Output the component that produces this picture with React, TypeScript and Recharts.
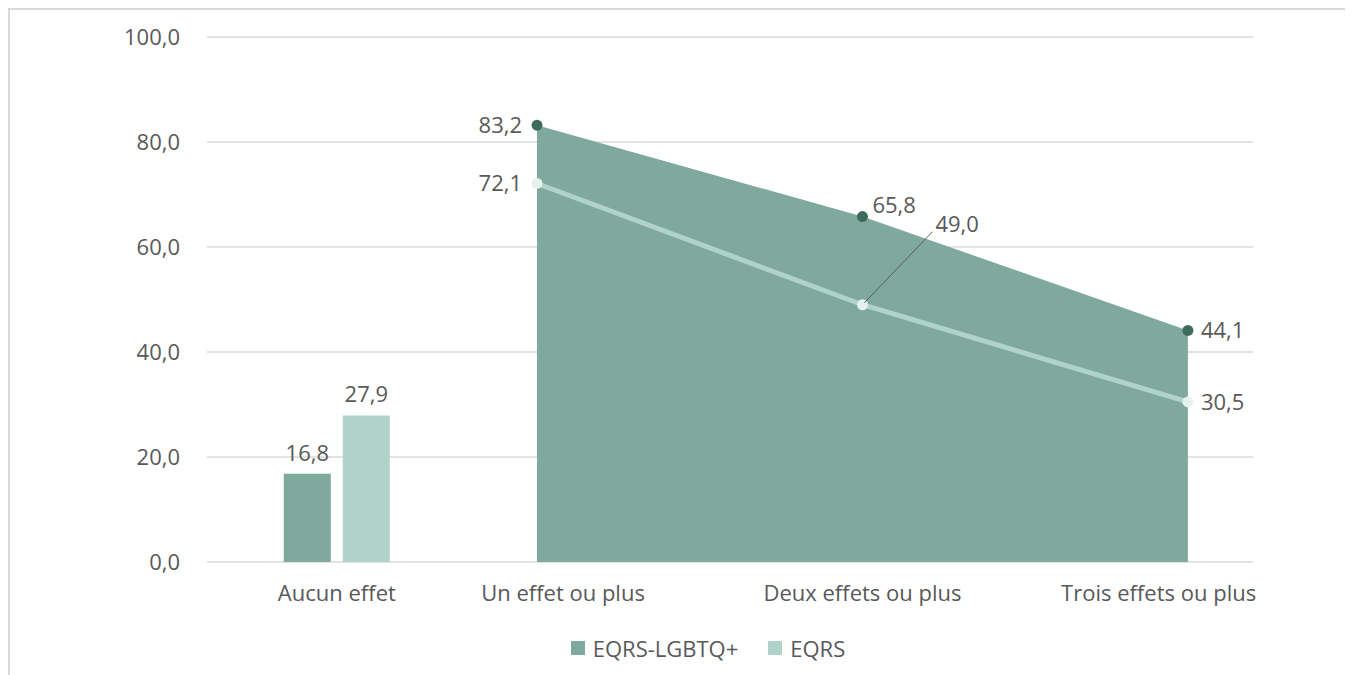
import React from 'react';
import { ComposedChart, Bar, Area, Line, XAxis, YAxis, CartesianGrid, Legend, LabelList } from 'recharts';

const categories = ['Aucun effet', 'Un effet ou plus', 'Deux effets ou plus', 'Trois effets ou plus'];
const lgbtqValues = [16.8, 83.2, 65.8, 44.1];
const eqrsValues = [27.9, 72.1, 49.0, 30.5];
const yTicks = [0, 20, 40, 60, 80, 100];
const seriesNames = ['EQRS-LGBTQ+', 'EQRS'];

// positions of categories along the numeric x axis (axis units)
const pointX = [0.385, 1, 2, 3];
const tickX = [0.385, 1.08, 2.0, 2.91];

const data = categories.map((c, i) =>
  i === 0
    ? { x: pointX[i], name: c, barLgbtq: lgbtqValues[i], barEqrs: eqrsValues[i] }
    : { x: pointX[i], name: c, areaLgbtq: lgbtqValues[i], lineEqrs: eqrsValues[i] }
);

const FONT = "'Open Sans', sans-serif";
const FS = 22;
const TEXT = '#595959';
const C_DARK = '#7FA99D';
const C_LIGHT = '#B0D3C9';
const C_DOT_DARK = '#3D6B5C';
const C_DOT_LIGHT = '#E4F1EC';

const fmt = (v: number) => v.toFixed(1).replace('.', ',');

const lgbtqPlacement: Record<number, string> = { 1: 'left', 2: 'rightUp', 3: 'right' };
const eqrsPlacement: Record<number, string> = { 1: 'left', 2: 'leader', 3: 'right' };

const makeLabel = (placements: Record<number, string>) => (props: any) => {
  const { value, index } = props;
  if (value == null) return null;
  const vb = props.viewBox || {};
  const x = props.x ?? vb.x;
  const y = props.y ?? vb.y;
  if (x == null || y == null) return null;
  const p = placements[index] || 'right';
  const common = { fontFamily: FONT, fontSize: FS, fill: TEXT, dy: '0.35em' };
  if (p === 'left') {
    return <text x={x - 15} y={y} textAnchor="end" {...common}>{fmt(value)}</text>;
  }
  if (p === 'rightUp') {
    return <text x={x + 10} y={y - 11} textAnchor="start" {...common}>{fmt(value)}</text>;
  }
  if (p === 'leader') {
    return (
      <g>
        <line x1={x + 2} y1={y - 2} x2={x + 70} y2={y - 73} stroke="#595959" strokeWidth={1} />
        <text x={x + 73} y={y - 80} textAnchor="start" {...common}>{fmt(value)}</text>
      </g>
    );
  }
  return <text x={x + 13} y={y} textAnchor="start" {...common}>{fmt(value)}</text>;
};

const renderLegend = () => (
  <div
    style={{
      height: 24,
      display: 'flex',
      justifyContent: 'center',
      alignItems: 'center',
      paddingLeft: 36,
      fontFamily: FONT,
      fontSize: FS,
      color: TEXT,
      margin: 0,
    }}
  >
    {seriesNames.map((n, i) => (
      <div key={n} style={{ display: 'flex', alignItems: 'center', marginRight: i === 0 ? 30 : 0 }}>
        <div style={{ width: 14, height: 14, background: i === 0 ? C_DARK : C_LIGHT, marginRight: 8 }} />
        <span>{n}</span>
      </div>
    ))}
  </div>
);

export default function App() {
  return (
    <div style={{ width: 1338, height: 700, border: '2px solid #D9D9D9', background: '#fff' }}>
      <ComposedChart
        width={1338}
        height={660}
        data={data}
        margin={{ top: 27, right: 95, left: 117, bottom: 10 }}
        barSize={47}
        barGap={12}
      >
        <CartesianGrid vertical={false} stroke="#D9D9D9" strokeWidth={1.5} />
        <XAxis
          type="number"
          dataKey="x"
          domain={[-0.014, 3.2]}
          allowDataOverflow
          ticks={tickX}
          interval={0}
          tickFormatter={(v: number) => categories[tickX.indexOf(v)] ?? ''}
          axisLine={false}
          tickLine={false}
          tickSize={0}
          tickMargin={23}
          height={74}
          tick={{ fill: TEXT, fontSize: FS, fontFamily: FONT }}
        />
        <YAxis
          type="number"
          domain={[0, 100]}
          ticks={yTicks}
          interval={0}
          tickFormatter={fmt}
          axisLine={false}
          tickLine={false}
          tickSize={0}
          tickMargin={27}
          width={80}
          tick={{ fill: TEXT, fontSize: FS, fontFamily: FONT }}
        />
        <Area
          dataKey="areaLgbtq"
          type="linear"
          fill={C_DARK}
          fillOpacity={1}
          stroke="none"
          dot={{ r: 5.5, fill: C_DOT_DARK, stroke: 'none', fillOpacity: 1 }}
          activeDot={false}
          isAnimationActive={false}
        >
          <LabelList dataKey="areaLgbtq" content={makeLabel(lgbtqPlacement)} />
        </Area>
        <Line
          dataKey="lineEqrs"
          type="linear"
          stroke={C_LIGHT}
          strokeWidth={5}
          dot={{ r: 5.5, fill: C_DOT_LIGHT, stroke: 'none' }}
          activeDot={false}
          isAnimationActive={false}
        >
          <LabelList dataKey="lineEqrs" content={makeLabel(eqrsPlacement)} />
        </Line>
        <Bar dataKey="barLgbtq" fill={C_DARK} isAnimationActive={false}>
          <LabelList dataKey="barLgbtq" position="top" offset={13} formatter={(v: any) => (v == null ? '' : fmt(v))} style={{ fill: TEXT, fontSize: FS, fontFamily: FONT }} />
        </Bar>
        <Bar dataKey="barEqrs" fill={C_LIGHT} isAnimationActive={false}>
          <LabelList dataKey="barEqrs" position="top" offset={14} formatter={(v: any) => (v == null ? '' : fmt(v))} style={{ fill: TEXT, fontSize: FS, fontFamily: FONT }} />
        </Bar>
        <Legend verticalAlign="bottom" content={renderLegend} />
      </ComposedChart>
    </div>
  );
}
